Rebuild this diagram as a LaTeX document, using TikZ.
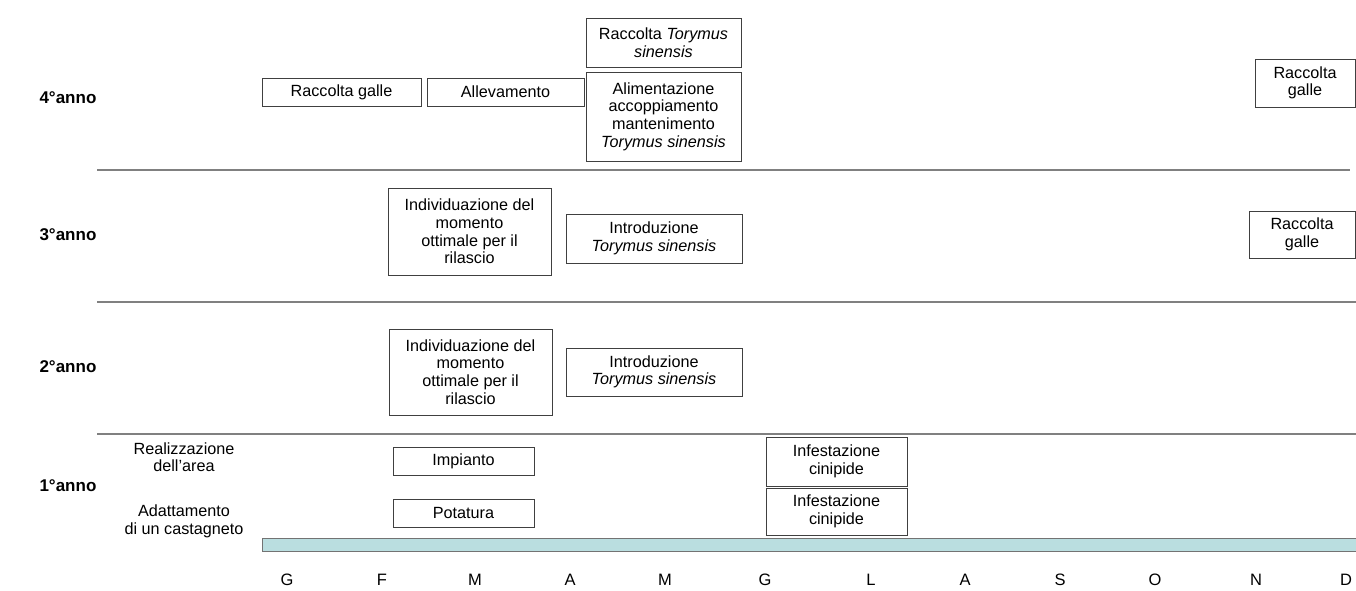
\documentclass[tikz,border=0pt]{standalone}
\usepackage{fontspec}
\setmainfont{Liberation Sans}
\begin{document}
\begin{tikzpicture}[x=1pt,y=-1pt,
  box/.style={draw=black!75,line width=0.9pt,fill=white,align=center,inner sep=0pt,
    font=\fontsize{16.2}{17.6}\selectfont},
  year/.style={font=\fontsize{17}{19}\selectfont\bfseries,anchor=west},
  side/.style={align=center,font=\fontsize{16.2}{17.6}\selectfont},
  month/.style={font=\fontsize{16.5}{18}\selectfont},
  sep/.style={draw=black!50,line width=1.6pt}]
\useasboundingbox (0,0) rectangle (1356,590);
% separators
\coordinate (s1a) at (97,170); \coordinate (s1b) at (1350,170);
\coordinate (s2a) at (97,302); \coordinate (s2b) at (1356,302);
\coordinate (s3a) at (97,434); \coordinate (s3b) at (1356,434);
\draw[sep] (s1a) -- (s1b);
\draw[sep] (s2a) -- (s2b);
\draw[sep] (s3a) -- (s3b);
% time bar
\draw[draw=black!55,line width=1pt,fill={rgb,255:red,186;green,222;blue,224}] (262,538) rectangle (1357,551);
% year labels
\node[year] (y4) at (36,98) {4°anno};
\node[year] (y3) at (36,235) {3°anno};
\node[year] (y2) at (36,367) {2°anno};
\node[year] (y1) at (36,486) {1°anno};
\node[side] (real) at (184,457) {Realizzazione\\dell’area};
\node[side] (adat) at (184,521) {Adattamento\\di un castagneto};
% 4th year
\node[box,minimum width=159pt,minimum height=28pt] (rg4) at (341.5,92) {Raccolta galle};
\node[box,minimum width=157pt,minimum height=28pt] (all) at (505.5,92) {Allevamento};
\node[box,minimum width=155pt,minimum height=49pt] (rts) at (663.5,42.5) {Raccolta \textit{Torymus}\\\textit{sinensis}};
\node[box,minimum width=155pt,minimum height=89pt] (ali) at (663.5,116.5) {Alimentazione\\accoppiamento\\mantenimento\\\textit{Torymus sinensis}};
\node[box,minimum width=100pt,minimum height=48pt] (rg4b) at (1305,83) {Raccolta\\galle};
% 3rd year
\node[box,minimum width=163pt,minimum height=87pt] (ind3) at (469.5,231.5) {Individuazione del\\momento\\ottimale per il\\rilascio};
\node[box,minimum width=176pt,minimum height=49pt] (int3) at (654,238.5) {Introduzione\\\textit{Torymus sinensis}};
\node[box,minimum width=106pt,minimum height=47pt] (rg3) at (1302,234.5) {Raccolta\\galle};
% 2nd year
\node[box,minimum width=163pt,minimum height=86pt] (ind2) at (470.5,372) {Individuazione del\\momento\\ottimale per il\\rilascio};
\node[box,minimum width=176pt,minimum height=48pt] (int2) at (654,372) {Introduzione\\\textit{Torymus sinensis}};
% 1st year
\node[box,minimum width=141pt,minimum height=28pt] (imp) at (463.5,461) {Impianto};
\node[box,minimum width=141pt,minimum height=28pt] (pot) at (463.5,513) {Potatura};
\node[box,minimum width=141pt,minimum height=49pt] (inf1) at (836.5,461.5) {Infestazione\\cinipide};
\node[box,minimum width=141pt,minimum height=47pt] (inf2) at (836.5,511.5) {Infestazione\\cinipide};
% months
\node[month] (m1) at (287,580) {G};
\node[month] (m2) at (382,580) {F};
\node[month] (m3) at (475,580) {M};
\node[month] (m4) at (570,580) {A};
\node[month] (m5) at (665,580) {M};
\node[month] (m6) at (765,580) {G};
\node[month] (m7) at (871,580) {L};
\node[month] (m8) at (965,580) {A};
\node[month] (m9) at (1060,580) {S};
\node[month] (m10) at (1155,580) {O};
\node[month] (m11) at (1256,580) {N};
\node[month] (m12) at (1346,580) {D};
\end{tikzpicture}
\end{document}
